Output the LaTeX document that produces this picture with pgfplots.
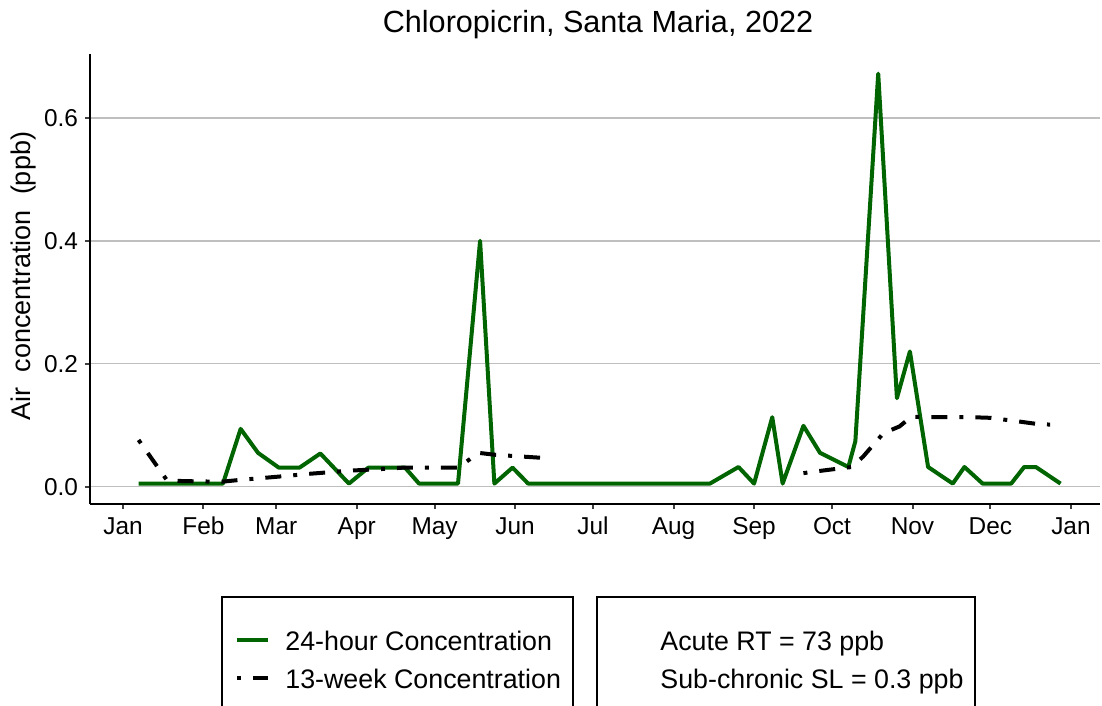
\documentclass[border=0pt]{standalone}
\usepackage{fontspec}
\setmainfont{Liberation Sans}
\usepackage{pgfplots}
\pgfplotsset{compat=1.18}

\definecolor{conc24}{RGB}{0,100,0}
\tikzset{
  wk13/.style={black, line width=2pt, dash pattern=on 2pt off 6pt on 8pt off 6pt},
  hr24/.style={conc24, line width=2pt, line join=round},
}

% 24-hour samples (day of year, ppb)
\pgfplotstableread{
day conc
6 0.005
38.5 0.005
45.3 0.094
52 0.055
60 0.031
68 0.031
76 0.054
87 0.005
94.5 0.031
108.6 0.031
114 0.005
129 0.005
137.5 0.400
143 0.005
150 0.031
156 0.005
226 0.005
237 0.032
243 0.005
250 0.113
254 0.005
262 0.099
268.4 0.055
279.3 0.032
282 0.074
290.8 0.672
298 0.144
303 0.220
310 0.032
319.5 0.005
324 0.032
331 0.005
342 0.005
347 0.032
351.5 0.032
361 0.005
}\dayly

% 13-week running concentration, first stretch
\pgfplotstableread{
day conc
6 0.076
17 0.010
24 0.009
38 0.008
45 0.011
59 0.016
72 0.021
87 0.026
101 0.029
108 0.031
129 0.031
137 0.055
143 0.052
150 0.050
161 0.047
}\weekA

% 13-week running concentration, second stretch
\pgfplotstableread{
day conc
262 0.022
269 0.026
280.6 0.032
285 0.049
292.8 0.087
299 0.098
303.6 0.114
309 0.113
327 0.113
334 0.112
345 0.106
352 0.102
357 0.101
}\weekB

\begin{document}
\begin{tikzpicture}
\path[use as bounding box] (-45pt,-101pt) rectangle (506pt,252pt);
\begin{axis}[
    at={(0,0)}, anchor=south west,
    scale only axis, width=505pt, height=225pt,
    xmin=-12.7, xmax=376.2, ymin=-0.0282, ymax=0.704,
    axis x line=bottom, axis y line=left,
    axis line style={-, line width=1pt, black},
    tick align=outside, major tick length=2.5pt,
    tick style={line width=1pt, black!75},
    xtick={0,31,59,90,120,151,181,212,243,273,304,334,365},
    xticklabels={Jan,Feb,Mar,Apr,May,Jun,Jul,Aug,Sep,Oct,Nov,Dec,Jan},
    xticklabel style={text height=9pt, text depth=2.5pt},
    ytick={0,0.2,0.4,0.6},
    yticklabel style={/pgf/number format/.cd, fixed, fixed zerofill, precision=1},
    /pgf/number format/assume math mode=true,
    ticklabel style={font=\fontsize{12.2}{14}\selectfont},
    ymajorgrids,
    grid style={line width=0.75pt, black!25},
  ]
\addplot[hr24] table[x=day, y=conc] {\dayly};
\addplot[wk13] table[x=day, y=conc] {\weekA};
\addplot[wk13] table[x=day, y=conc] {\weekB};
\end{axis}

% title and y label
\node[anchor=base, font=\fontsize{15.3}{18}\selectfont] at (254pt,235.5pt) {Chloropicrin, Santa Maria, 2022};
\node[anchor=base, rotate=90, font=\fontsize{13.5}{16}\selectfont] at (-29.5pt,114pt) {Air\ \ concentration\ \ (ppb)};

% legend boxes
\draw[line width=1.3pt] (66pt,-46.5pt) rectangle (241.5pt,-120pt);
\draw[line width=1.3pt] (253.5pt,-46.5pt) rectangle (442.5pt,-120pt);
\draw[hr24] (73.5pt,-68pt) -- (89pt,-68pt);
\draw[wk13] (73.5pt,-87pt) -- (89pt,-87pt);
\begin{scope}[every node/.style={anchor=base west, inner sep=0pt, font=\fontsize{13.4}{16}\selectfont}]
\node at (97.5pt,-73pt) {24-hour Concentration};
\node at (97.5pt,-92pt) {13-week Concentration};
\node at (285pt,-73pt) {Acute RT = 73 ppb};
\node at (285pt,-92pt) {Sub-chronic SL = 0.3 ppb};
\end{scope}
\end{tikzpicture}
\end{document}
